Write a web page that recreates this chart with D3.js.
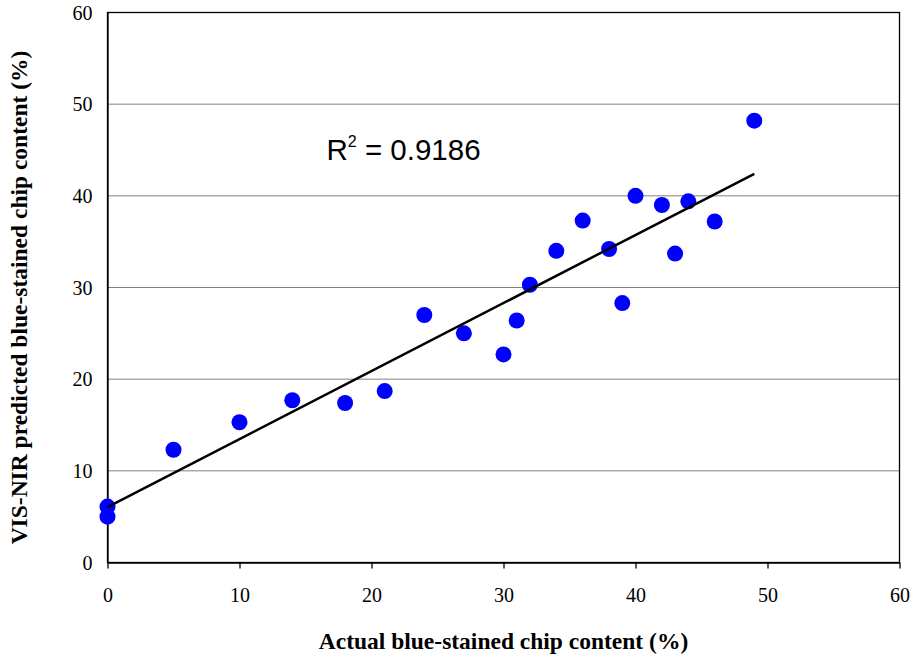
<!DOCTYPE html>
<html><head><meta charset="utf-8">
<script src="https://cdn.jsdelivr.net/npm/d3@7"></script>
<style>body{margin:0;background:#fff;} svg{display:block;}</style>
</head><body>
<svg id="chart" width="911" height="660"></svg>
<script>
const actual    = [0, 0, 5, 10, 14, 18, 21, 24, 27, 30, 31, 32, 34, 36, 38, 39, 40, 42, 43, 44, 46, 49];
const predicted = [6.1, 5.0, 12.3, 15.3, 17.7, 17.4, 18.7, 27.0, 25.0, 22.7, 26.4, 30.3, 34.0, 37.3, 34.2, 28.3, 40.0, 39.0, 33.7, 39.4, 37.2, 48.2];
const xTicks = [0, 10, 20, 30, 40, 50, 60];
const yTicks = [0, 10, 20, 30, 40, 50, 60];
const rSquaredLabel = "0.9186";
const xTitle = "Actual blue-stained chip content (%)";
const yTitle = "VIS-NIR predicted blue-stained chip content (%)";

const SERIF = "'Liberation Serif', 'Times New Roman', serif";
const SANS = "'Liberation Sans', Arial, sans-serif";

const svg = d3.select("#chart");
const L = 107.5, R = 899.5, T = 12.5, B = 562.5;
const x = d3.scaleLinear().domain([0, 60]).range([L, R]);
const y = d3.scaleLinear().domain([0, 60]).range([B, T]);

// gridlines
svg.append("g").selectAll("line").data(yTicks.filter(d => d > 0 && d < 60)).join("line")
  .attr("x1", L).attr("x2", R).attr("y1", d => y(d)).attr("y2", d => y(d))
  .attr("stroke", "#808080").attr("stroke-width", 1);

// plot border
svg.append("rect").attr("x", L).attr("y", T).attr("width", R - L).attr("height", B - T)
  .attr("fill", "none").attr("stroke", "#000").attr("stroke-width", 1.3);

// x axis
const xa = svg.append("g").attr("transform", `translate(0,${B})`)
  .call(d3.axisBottom(x).tickValues(xTicks).tickSize(6).tickSizeOuter(0));
xa.attr("font-family", null).attr("font-size", null);
xa.select(".domain").attr("stroke", "#000").attr("stroke-width", 1.3);
xa.selectAll(".tick line").attr("stroke", "#000").attr("stroke-width", 1.3);
xa.selectAll("text").attr("y", 39).attr("dy", 0)
  .style("font-family", SERIF).style("font-size", "20px").attr("fill", "#000");

// y axis
const ya = svg.append("g").attr("transform", `translate(${L},0)`)
  .call(d3.axisLeft(y).tickValues(yTicks).tickSize(0).tickPadding(15).tickSizeOuter(0));
ya.attr("font-family", null).attr("font-size", null);
ya.select(".domain").attr("stroke", "#000").attr("stroke-width", 1.3);
ya.selectAll("text").attr("dy", "0.34em")
  .style("font-family", SERIF).style("font-size", "20px").attr("fill", "#000");

// trendline via least squares
const n = actual.length;
const mx = d3.mean(actual), my = d3.mean(predicted);
let sxy = 0, sxx = 0;
for (let i = 0; i < n; i++) { sxy += (actual[i] - mx) * (predicted[i] - my); sxx += (actual[i] - mx) ** 2; }
const slope = sxy / sxx, intercept = my - slope * mx;
const x0 = d3.min(actual), x1 = d3.max(actual);

// points
svg.append("g").selectAll("circle").data(actual.map((a, i) => [a, predicted[i]])).join("circle")
  .attr("cx", d => x(d[0])).attr("cy", d => y(d[1])).attr("r", 8).attr("fill", "#0000ff");

svg.append("line")
  .attr("x1", x(x0)).attr("y1", y(intercept + slope * x0))
  .attr("x2", x(x1)).attr("y2", y(intercept + slope * x1))
  .attr("stroke", "#000").attr("stroke-width", 2.5);

// R^2 label
const rt = svg.append("text").attr("x", 326.5).attr("y", 159.5)
  .style("font-family", SANS).style("font-size", "29.5px").attr("fill", "#000");
rt.append("tspan").text("R");
rt.append("tspan").attr("dy", -12.5).style("font-size", "16px").text("2");
rt.append("tspan").attr("dy", 12.5).text(" = " + rSquaredLabel);

// axis titles
svg.append("text").attr("x", (L + R) / 2).attr("y", 649).attr("text-anchor", "middle")
  .style("font-family", SERIF).style("font-weight", "bold")
  .style("font-size", "23.5px").attr("fill", "#000").text(xTitle);
svg.append("text").attr("transform", `translate(26.5,297.5) rotate(-90)`).attr("text-anchor", "middle")
  .style("font-family", SERIF).style("font-weight", "bold")
  .style("font-size", "23.5px").attr("fill", "#000").text(yTitle);
</script>
</body></html>
